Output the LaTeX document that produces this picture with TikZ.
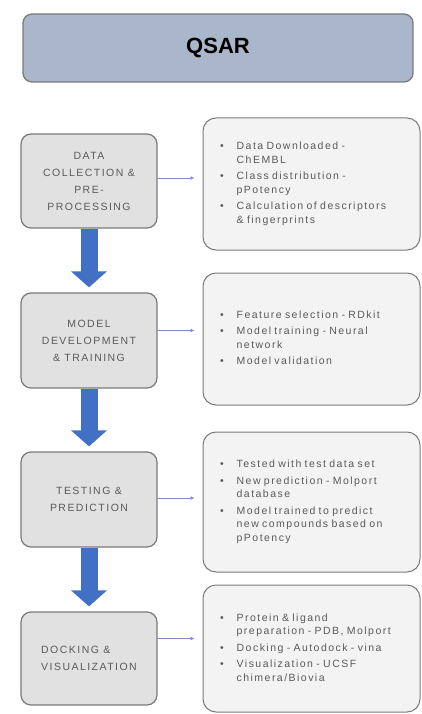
\documentclass[tikz,border=0pt]{standalone}
\usepackage{fontspec}
\setmainfont{Liberation Sans}
\newfontfamily\trackfont[LetterSpace=14]{Liberation Sans}
\usetikzlibrary{arrows.meta,positioning}

\definecolor{bannerfill}{HTML}{AAB6C9}
\definecolor{framegray}{HTML}{7A7A7A}
\definecolor{stagefill}{HTML}{E1E1E1}
\definecolor{detailfill}{HTML}{F3F3F3}
\definecolor{flowblue}{HTML}{4170C4}
\definecolor{linkblue}{HTML}{7C90BA}
\definecolor{textgray}{HTML}{5A5A5A}

\newcommand{\pointlist}[1]{{\fontsize{10.5}{13.5}\selectfont
  \begin{tabular}{@{}l@{\hspace{13pt}}l@{}}#1\end{tabular}}}

\begin{document}
\begin{tikzpicture}[
	x=1pt, y=-1pt,
	banner/.style={draw=framegray, fill=bannerfill, line width=1.3pt, rounded corners=9pt, minimum width=390pt, minimum height=68pt, font=\fontsize{22}{26}\selectfont\bfseries},
	stage/.style={draw=framegray, fill=stagefill, line width=1.2pt, rounded corners=10pt, minimum width=136pt, minimum height=94pt, align=center, text=textgray, font=\trackfont\fontsize{10.5}{17}\selectfont},
	detail/.style={draw=framegray, fill=detailfill, line width=1pt, rounded corners=13pt, minimum width=217pt, text width=183pt, inner xsep=17pt, align=left, text=textgray, font=\trackfont},
	flow/.style={draw=flowblue, line width=17pt, -{Triangle[length=16pt,width=35pt]}, shorten >=5pt},
	link/.style={draw=linkblue, line width=0.8pt, -{Latex[length=4pt,width=4pt]}, shorten >=8pt},
]
\useasboundingbox (0,0) rectangle (422,714);

%%% TITLE
\node [banner] (title) at (218,48) {QSAR};

\begin{scope}[]
%%% STAGES
\node [stage] (collect) at (89,181) {DATA\\COLLECTION \&\\PRE-\\PROCESSING};
\node [stage, minimum height=95pt] (develop) at (89,340.5) {MODEL\\DEVELOPMENT\\\& TRAINING};
\node [stage, minimum height=95pt] (testing) at (89,499.5) {TESTING \&\\PREDICTION};
\node [stage, minimum height=93pt, align=left] (docking) at (89,658.5) {DOCKING \&\\VISUALIZATION};
\end{scope}

\begin{scope}[]
%%% DETAILS
\node [detail, minimum height=132pt] (prep) at (311.5,184) {\pointlist{
	\textbullet & Data Downloaded -\\
	& ChEMBL\\[3pt]
	\textbullet & Class distribution -\\
	& pPotency\\[3pt]
	\textbullet & Calculation of descriptors\\
	& \& fingerprints}};
\node [detail, minimum height=132pt] (model) at (311.5,339) {\pointlist{
	\textbullet & Feature selection - RDkit\\[3pt]
	\textbullet & Model training - Neural\\
	& network\\[3pt]
	\textbullet & Model validation}};
\node [detail, minimum height=140pt] (predict) at (311.5,502) {\pointlist{
	\textbullet & Tested with test data set\\[3pt]
	\textbullet & New prediction - Molport\\
	& database\\[3pt]
	\textbullet & Model trained to predict\\
	& new compounds based on\\
	& pPotency}};
\node [detail, minimum height=127pt] (dock) at (311.5,648.5) {\pointlist{
	\textbullet & Protein \& ligand\\
	& preparation - PDB, Molport\\[3pt]
	\textbullet & Docking - Autodock - vina\\[3pt]
	\textbullet & Visualization - UCSF\\
	& chimera/Biovia}};
\end{scope}

%%% CONNECTORS
\draw [flow] (collect.south) -- (develop.north);
\draw [flow] (develop.south) -- (testing.north);
\draw [flow] (testing.south) -- (docking.north);

\draw [link] ([yshift=3pt]collect.east) -- ([yshift=3pt]collect.east -| prep.west);
\draw [link] ([yshift=10pt]develop.east) -- ([yshift=10pt]develop.east -| model.west);
\draw [link] ([yshift=1.5pt]testing.east) -- ([yshift=1.5pt]testing.east -| predict.west);
\draw [link] ([yshift=20pt]docking.east) -- ([yshift=20pt]docking.east -| dock.west);

\end{tikzpicture}
\end{document}
